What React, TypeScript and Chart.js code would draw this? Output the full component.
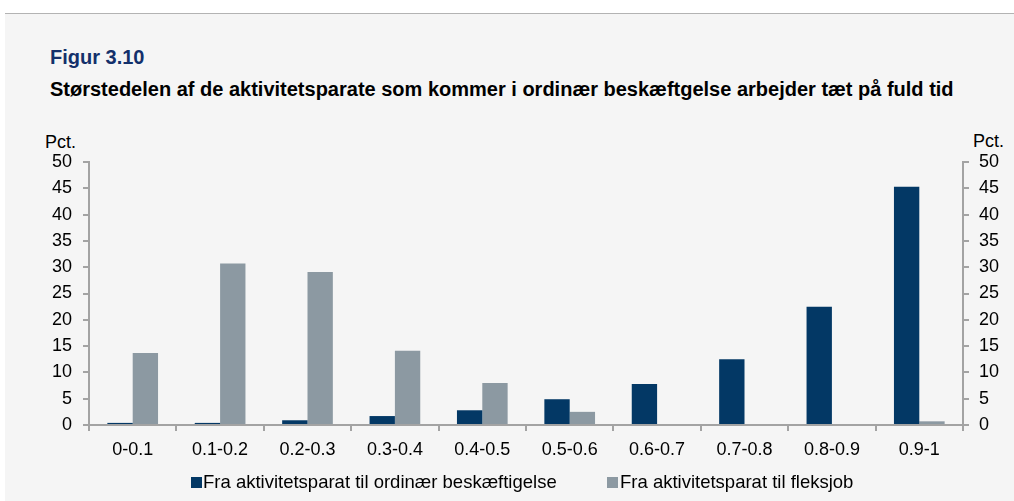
import React, { useEffect, useRef } from "react";
import { Chart, registerables } from "chart.js";

Chart.register(...registerables);

const categories = ["0-0.1", "0.1-0.2", "0.2-0.3", "0.3-0.4", "0.4-0.5", "0.5-0.6", "0.6-0.7", "0.7-0.8", "0.8-0.9", "0.9-1"];
const ordinaer = [0.4, 0.4, 0.9, 1.7, 2.8, 4.9, 7.8, 12.5, 22.5, 45.3];
const fleksjob = [13.7, 30.7, 29.1, 14.1, 8.0, 2.5, 0, 0, 0, 0.7];
const seriesNames = ["Fra aktivitetsparat til ordinær beskæftigelse", "Fra aktivitetsparat til fleksjob"];
const yMin = 0;
const yMax = 50;
const yStep = 5;

const BLUE = "#033865";
const GRAY = "#8c99a2";
const AXIS = "#a3a3a3";
const FONT = "'Liberation Sans', Arial, sans-serif";

export default function App() {
  const ref = useRef<HTMLCanvasElement>(null);
  useEffect(() => {
    if (!ref.current) return;
    const tickFont = { family: FONT, size: 18 };
    const chart = new Chart(ref.current, {
      type: "bar",
      data: {
        labels: categories,
        datasets: [
          { label: seriesNames[0], data: ordinaer, backgroundColor: BLUE, categoryPercentage: 0.58, barPercentage: 1, yAxisID: "y" },
          { label: seriesNames[1], data: fleksjob, backgroundColor: GRAY, categoryPercentage: 0.58, barPercentage: 1, yAxisID: "y" },
        ],
      },
      options: {
        responsive: false,
        animation: false,
        devicePixelRatio: 1,
        layout: { padding: { left: 0, right: 0, top: 42, bottom: 0 } },
        plugins: { legend: { display: false }, tooltip: { enabled: false } },
        scales: {
          x: {
            grid: { drawOnChartArea: false, drawTicks: true, tickLength: 6, color: AXIS, lineWidth: 2, offset: true },
            border: { color: AXIS, width: 2 },
            ticks: { color: "#000", font: tickFont, padding: 8, maxRotation: 0, autoSkip: false },
            afterFit: (s: any) => { s.height = 76; },
          },
          y: {
            position: "left",
            min: yMin, max: yMax,
            grid: { drawOnChartArea: false, drawTicks: true, tickLength: 6, color: AXIS, lineWidth: 2 },
            border: { color: AXIS, width: 2 },
            ticks: { stepSize: yStep, color: "#000", font: tickFont, padding: 11 },
            afterFit: (s: any) => { s.width = 89; },
          },
          y2: {
            position: "right",
            min: yMin, max: yMax,
            grid: { drawOnChartArea: false, drawTicks: true, tickLength: 6, color: AXIS, lineWidth: 2 },
            border: { color: AXIS, width: 2 },
            ticks: { stepSize: yStep, color: "#000", font: tickFont, padding: 10 },
            afterFit: (s: any) => { s.width = 51; },
          },
        },
      } as any,
    });
    return () => chart.destroy();
  }, []);

  const text: React.CSSProperties = { position: "absolute", fontFamily: FONT, whiteSpace: "nowrap" };
  return (
    <div style={{ position: "fixed", left: 0, top: 0, width: 1014, height: 501, overflow: "hidden", background: "#fff" }}>
      <div style={{ position: "absolute", left: 5, top: 13, right: 0, height: 1, background: "#b3b3b3" }} />
      <div style={{ position: "absolute", left: 5, top: 14, right: 0, bottom: 0, background: "#f5f5f5" }} />
      <div style={{ ...text, left: 50, top: 46, fontSize: 20, fontWeight: "bold", color: "#13306b" }}>Figur 3.10</div>
      <div style={{ ...text, left: 50, top: 78, fontSize: 20, fontWeight: "bold", color: "#000" }}>
        Størstedelen af de aktivitetsparate som kommer i ordinær beskæftgelse arbejder tæt på fuld tid
      </div>
      <div style={{ ...text, left: 45, top: 132, fontSize: 18, color: "#000" }}>Pct.</div>
      <div style={{ ...text, left: 973, top: 131, fontSize: 18, color: "#000" }}>Pct.</div>
      <canvas ref={ref} width={1014} height={381} style={{ position: "absolute", left: 0, top: 120, width: 1014, height: 381 }} />
      <div style={{ ...text, left: 191, top: 471, fontSize: 18.5, color: "#000", display: "flex", alignItems: "center" }}>
        <span style={{ display: "inline-block", width: 11, height: 11, background: BLUE, marginRight: 1 }} />
        <span>{seriesNames[0]}</span>
      </div>
      <div style={{ ...text, left: 607, top: 471, fontSize: 18.5, color: "#000", display: "flex", alignItems: "center" }}>
        <span style={{ display: "inline-block", width: 11, height: 11, background: GRAY, marginRight: 2 }} />
        <span>{seriesNames[1]}</span>
      </div>
    </div>
  );
}
